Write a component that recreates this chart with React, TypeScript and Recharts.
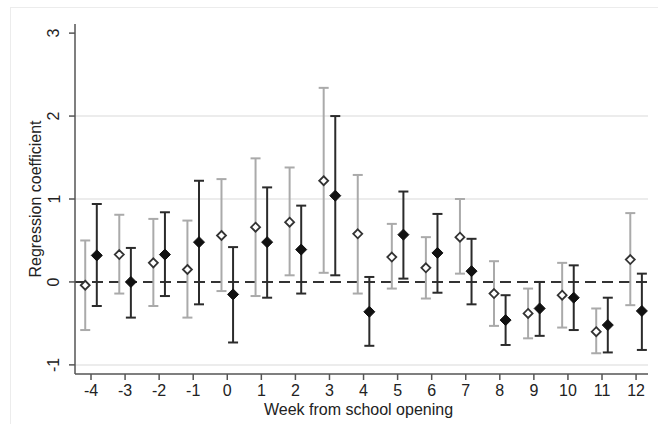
import React from 'react';
import { ScatterChart, Scatter, XAxis, YAxis, ErrorBar, ReferenceLine, CartesianGrid } from 'recharts';

const weeks = [-4, -3, -2, -1, 0, 1, 2, 3, 4, 5, 6, 7, 8, 9, 10, 11, 12];
const grayCoef = [-0.04, 0.33, 0.23, 0.15, 0.56, 0.66, 0.72, 1.22, 0.58, 0.30, 0.17, 0.54, -0.14, -0.38, -0.16, -0.60, 0.27];
const grayLo = [-0.58, -0.14, -0.29, -0.43, -0.11, -0.17, 0.08, 0.11, -0.14, -0.08, -0.20, 0.10, -0.53, -0.68, -0.55, -0.86, -0.28];
const grayHi = [0.50, 0.81, 0.76, 0.74, 1.24, 1.49, 1.38, 2.34, 1.29, 0.70, 0.54, 1.00, 0.25, -0.08, 0.23, -0.32, 0.83];
const blackCoef = [0.32, 0.00, 0.33, 0.48, -0.15, 0.48, 0.39, 1.04, -0.36, 0.57, 0.35, 0.13, -0.46, -0.32, -0.19, -0.52, -0.35];
const blackLo = [-0.29, -0.43, -0.17, -0.27, -0.73, -0.19, -0.14, 0.08, -0.77, 0.04, -0.13, -0.27, -0.76, -0.65, -0.58, -0.85, -0.82];
const blackHi = [0.94, 0.41, 0.84, 1.22, 0.42, 1.14, 0.92, 2.00, 0.06, 1.09, 0.82, 0.52, -0.16, 0.00, 0.20, -0.19, 0.10];
const yTicks = [-1, 0, 1, 2, 3];
const gridValues = [-1, 1, 2];

const OFFSET = 0.17;
const FONT = '"Liberation Sans", Arial, sans-serif';

const grayData = weeks.map((w, i) => ({
  x: w - OFFSET,
  y: grayCoef[i],
  err: [grayCoef[i] - grayLo[i], grayHi[i] - grayCoef[i]],
}));
const blackData = weeks.map((w, i) => ({
  x: w + OFFSET,
  y: blackCoef[i],
  err: [blackCoef[i] - blackLo[i], blackHi[i] - blackCoef[i]],
}));

const HollowDiamond = (props: any) => {
  const { cx, cy } = props;
  const r = 4.5;
  return (
    <polygon
      points={`${cx},${cy - r} ${cx + r},${cy} ${cx},${cy + r} ${cx - r},${cy}`}
      fill="#fff"
      stroke="#333"
      strokeWidth={1.8}
    />
  );
};

const FilledDiamond = (props: any) => {
  const { cx, cy } = props;
  const r = 5.5;
  return (
    <polygon
      points={`${cx},${cy - r} ${cx + r},${cy} ${cx},${cy + r} ${cx - r},${cy}`}
      fill="#111"
      stroke="#111"
      strokeWidth={1}
    />
  );
};

const YTick = (props: any) => {
  const { x, y, payload } = props;
  const tx = x - 15;
  return (
    <text
      x={tx}
      y={y}
      transform={`rotate(-90 ${tx} ${y})`}
      textAnchor="middle"
      dominantBaseline="central"
      fontSize={16}
      fontFamily={FONT}
      fill="#222"
    >
      {payload.value}
    </text>
  );
};

const YLabel = (props: any) => {
  const { viewBox } = props;
  const cx = 35;
  const cy = viewBox.y + viewBox.height / 2;
  return (
    <text
      x={cx}
      y={cy}
      transform={`rotate(-90 ${cx} ${cy})`}
      textAnchor="middle"
      dominantBaseline="central"
      fontSize={16}
      fontFamily={FONT}
      fill="#222"
    >
      Regression coefficient
    </text>
  );
};

const XLabel = (props: any) => {
  const { viewBox } = props;
  const cx = viewBox.x + viewBox.width / 2 - 3;
  return (
    <text
      x={cx}
      y={409}
      textAnchor="middle"
      dominantBaseline="central"
      fontSize={16}
      fontFamily={FONT}
      fill="#222"
    >
      Week from school opening
    </text>
  );
};

export default function App() {
  return (
    <div style={{ position: 'absolute', left: 0, top: 0, width: 658, height: 424, background: '#fff' }}>
      <div
        style={{
          position: 'absolute',
          left: 10,
          top: 7,
          width: 660,
          height: 430,
          borderTop: '1px solid #ececec',
          borderLeft: '1px solid #ececec',
        }}
      />
      <div style={{ position: 'absolute', left: 0, top: 0 }}>
        <ScatterChart width={658} height={424} margin={{ top: 24, right: 10, bottom: 0, left: 10 }}>
          <CartesianGrid
            horizontal={true}
            vertical={false}
            horizontalValues={gridValues}
            stroke="#e6e6e6"
            strokeWidth={1.5}
          />
          <XAxis
            type="number"
            dataKey="x"
            domain={[-4.47, 12.35]}
            ticks={weeks}
            interval={0}
            allowDataOverflow
            height={50}
            tickSize={6}
            tickMargin={5}
            stroke="#555"
            strokeWidth={1.5}
            tick={{ fontSize: 16, fontFamily: FONT, fill: '#222' }}
            label={<XLabel />}
          />
          <YAxis
            type="number"
            dataKey="y"
            domain={[-1.11, 3.11]}
            ticks={yTicks}
            allowDataOverflow
            width={65}
            tickSize={6}
            tickMargin={0}
            stroke="#555"
            strokeWidth={1.5}
            tick={<YTick />}
            label={<YLabel />}
          />
          <ReferenceLine y={0} stroke="#333" strokeWidth={2} strokeDasharray="11 6" />
          <Scatter data={grayData} shape={<HollowDiamond />} isAnimationActive={false}>
            <ErrorBar dataKey="err" direction="y" width={5} stroke="#aaa" strokeWidth={2} />
          </Scatter>
          <Scatter data={blackData} shape={<FilledDiamond />} isAnimationActive={false}>
            <ErrorBar dataKey="err" direction="y" width={5} stroke="#2b2b2b" strokeWidth={2} />
          </Scatter>
        </ScatterChart>
      </div>
    </div>
  );
}
